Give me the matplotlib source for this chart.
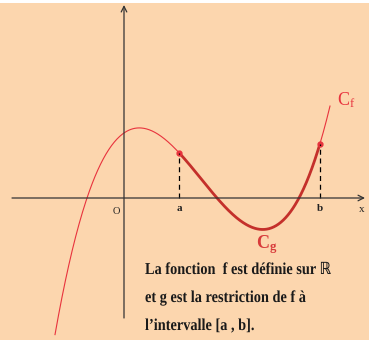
import matplotlib
matplotlib.use("Agg")
import matplotlib.pyplot as plt
import numpy as np
from matplotlib.patheffects import AbstractPathEffect
from matplotlib.transforms import Affine2D

# cubic f(x) = k (x - r1)(x - r2)(x - r3)
roots = [-3.7, 9.3, 17.5]
k = 0.0108
x_start, x_end = -6.9, 20.6
a, b = 5.5, 19.6

lines = ["La fonction  f est définie sur ℝ",
         "et g est la restriction de f à",
         "l’intervalle [a , b]."]

bg = '#fcd6ae'
red = '#e8333d'
dark_red = '#c4302b'
axis_col = '#333333'


def f(x):
    return k * (x - roots[0]) * (x - roots[1]) * (x - roots[2])


class Condense(AbstractPathEffect):
    # squeeze glyphs horizontally (the original uses a condensed serif)
    def __init__(self, sx):
        super().__init__()
        self.sx = sx

    def draw_path(self, renderer, gc, tpath, affine, rgbFace=None):
        x0 = affine.get_matrix()[0, 2]
        squeeze = Affine2D().translate(-x0, 0).scale(self.sx, 1).translate(x0, 0)
        renderer.draw_path(gc, tpath, affine + squeeze, rgbFace)


plt.rcParams['mathtext.fontset'] = 'custom'
plt.rcParams['mathtext.rm'] = 'Liberation Serif'
plt.rcParams['mathtext.bf'] = 'Liberation Serif:bold'

fig = plt.figure(figsize=(3.69, 3.40), dpi=100, facecolor='white')
ax = fig.add_axes([0, 0, 1, 337 / 340])
ax.set_facecolor(bg)
ax.set_xlim(-12.4, 24.5)
ax.set_ylim(-14.2, 19.5)
ax.set_xticks([])
ax.set_yticks([])
for sp in ax.spines.values():
    sp.set_visible(False)

# axes with open arrow heads
ax.annotate('', xy=(24.1, 0), xytext=(-11.2, 0),
            arrowprops=dict(arrowstyle='->', color=axis_col, lw=0.9,
                            shrinkA=0, shrinkB=0))
ax.annotate('', xy=(0, 19.3), xytext=(0, -12.0),
            arrowprops=dict(arrowstyle='->', color=axis_col, lw=0.9,
                            shrinkA=0, shrinkB=0))

# curve Cf and restriction Cg
xs = np.linspace(x_start, x_end, 400)
ax.plot(xs, f(xs), color=red, lw=0.8)
xg = np.linspace(a, b, 300)
ax.plot(xg, f(xg), color=dark_red, lw=2.0, solid_capstyle='round')
ax.plot([a, b], [f(a), f(b)], 'o', color=red, ms=3.5)

# dashed guides
for xv in (a, b):
    ax.plot([xv, xv], [0, f(xv)], color='black', lw=0.9, ls=(0, (4, 3)))

# axis labels
ax.text(-0.8, -1.3, 'O', fontsize=7.5, family='Liberation Serif',
        color='#222222', ha='center', va='center')
ax.text(a, -1.0, 'a', fontsize=8, family='Liberation Serif',
        fontweight='bold', color='#222222', ha='center', va='center')
ax.text(b, -1.0, 'b', fontsize=8, family='Liberation Serif',
        fontweight='bold', color='#222222', ha='center', va='center')
ax.text(23.8, -1.1, 'x', fontsize=8, family='Liberation Serif',
        color='#222222', ha='center', va='center')

ax.text(21.3, 9.3, r'$\mathrm{C_f}$', fontsize=13, color=red,
        ha='left', va='baseline')
ax.text(13.2, -5.0, r'$\mathbf{C_g}$', fontsize=13, color='#d83a3a',
        ha='left', va='baseline')

# note
for i, line in enumerate(lines):
    ax.text(2.1, -7.6 - i * 2.8, line, fontsize=12, fontweight='bold',
            family=['Liberation Serif', 'DejaVu Serif', 'DejaVu Sans'],
            color='#1a1a1a', ha='left', va='baseline',
            path_effects=[Condense(0.86)])

fig.savefig('out.png', dpi=100, facecolor=fig.get_facecolor())
